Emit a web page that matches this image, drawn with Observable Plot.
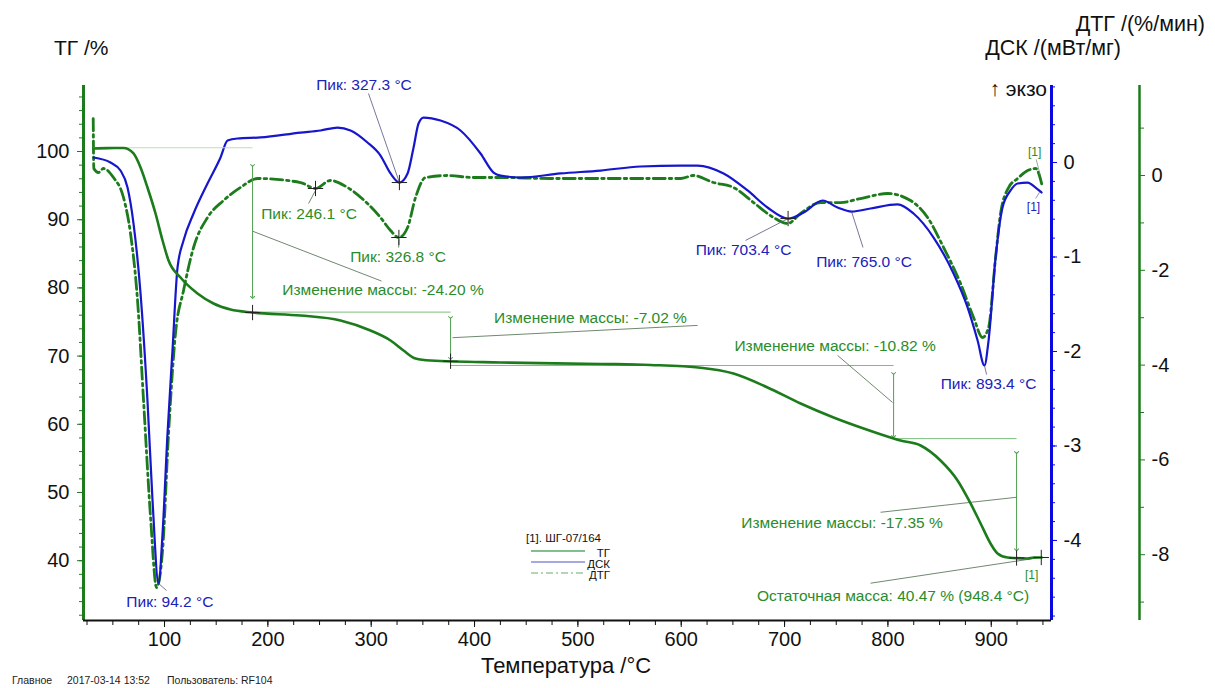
<!DOCTYPE html>
<html><head><meta charset="utf-8">
<script src="https://cdn.jsdelivr.net/npm/d3@7"></script>
<script src="https://cdn.jsdelivr.net/npm/@observablehq/plot@0.6"></script>
<style>
body{margin:0;background:#fff;}
#chart{position:relative;width:1215px;height:688px;overflow:hidden;background:#fff;}
#chart svg{position:absolute;left:0;top:0;}
</style></head><body><div id="chart"></div>
<script>
// ---------- data ----------
const tgT = [31.3,45,60.3,70.0,76.8,83.5,91.3,98.1,103.9,115.5,131.9,147.4,163.9,185.2,231.6,270.3,299.3,318.7,331.3,342.9,357.4,425.2,521.9,570.3,618.7,650.6,683.5,715.5,747.4,776.5,805.5,812.2,831.6,850.9,867.4,880.0,889.7,899.3,906.1,915.8,935.2,941.0,948.7];
const tgV = [100.44,100.5,100.51,99.71,97.65,94.72,90.91,86.95,84.02,81.52,79.18,77.71,76.83,76.39,75.95,75.22,73.75,72.29,70.82,69.65,69.35,69.06,68.85,68.7,68.3,67.45,65.4,63.05,61.0,59.38,57.92,57.62,56.89,54.69,51.76,48.39,45.46,42.52,41.06,40.47,40.32,40.47,40.47];

const dscT = [31.3,47.7,57.4,64.2,70.0,76.8,83.5,88.4,94.2,98.1,102.9,107.7,112.6,118.4,128.1,141.6,154.2,161.0,170.6,192.9,231.6,251.0,267.4,280.0,296.4,309.0,318.7,327.3,335.2,341.0,345.8,350.6,367.1,386.4,405.8,418.4,425.2,444.5,483.2,521.9,560.6,599.3,615.8,641.0,664.2,683.5,703.4,718.4,736.8,751.3,765.0,783.2,809.3,824.8,844.2,863.5,877.1,886.8,893.4,897.4,904.2,910.9,918.7,925.5,935.2,942.9,948.7];
const dscV = [0.053,0,-0.085,-0.265,-0.646,-1.386,-2.519,-3.577,-4.455,-3.926,-2.868,-1.989,-1.111,-0.825,-0.540,-0.222,0.053,0.233,0.254,0.265,0.317,0.339,0.370,0.339,0.212,0.074,-0.116,-0.212,-0.116,0.159,0.413,0.476,0.444,0.339,0.095,-0.106,-0.138,-0.159,-0.116,-0.085,-0.042,-0.032,-0.032,-0.116,-0.296,-0.476,-0.593,-0.529,-0.402,-0.476,-0.519,-0.487,-0.444,-0.540,-0.794,-1.175,-1.534,-1.884,-2.148,-1.884,-1.005,-0.476,-0.296,-0.222,-0.212,-0.265,-0.317];

const dtgT = [31.0,31.6,36.1,41.0,50.6,60.3,67.1,73.9,79.7,86.5,92.3,98.1,103.9,110.6,118.4,128.1,141.6,157.1,173.5,190.0,231.6,246.1,260.6,277.1,296.4,309.0,318.7,326.8,335.2,342.9,352.6,373.9,399.0,425.2,473.5,521.9,570.3,599.3,611.9,631.3,650.6,670.0,689.3,702.9,715.5,734.8,754.2,773.5,799.7,821.9,838.4,853.9,870.3,882.9,891.6,897.4,904.2,909.0,916.8,925.5,935.2,942.9,949.7];
const dtgV = [1.2,0.148,0.063,0.148,-0.042,-0.464,-1.224,-2.637,-4.747,-7.215,-8.692,-7.911,-5.443,-3.333,-2.426,-1.519,-0.886,-0.527,-0.253,-0.063,-0.148,-0.274,-0.105,-0.253,-0.591,-0.886,-1.160,-1.308,-1.097,-0.464,-0.042,0,-0.042,-0.042,-0.063,-0.063,-0.063,-0.063,0,-0.148,-0.253,-0.570,-0.886,-1.013,-0.802,-0.570,-0.570,-0.485,-0.380,-0.527,-0.886,-1.519,-2.278,-2.996,-3.418,-3.207,-1.730,-0.802,-0.253,-0.063,0.105,0.148,-0.253];

// tick values
const xTicks = [100,200,300,400,500,600,700,800,900];
const xMinor = d3.range(25, 951, 25);
const tgTicks = [40,50,60,70,80,90,100];
const tgMinor = d3.range(32, 109, 2);
const dscTicks = [-4,-3,-2,-1,0];
const dscMinor = d3.range(-4.8, 0.81, 0.2).map(v => +v.toFixed(1));
const dtgTicks = [-8,-6,-4,-2,0];
const dtgMinor = [-9,-7,-5,-3,-1,1];

// TG mass-change annotations
const stepT1 = [31, 185.2, 376.8, 805.5];
const stepT2 = [185.2, 376.8, 805.5, 924.5];
const stepV  = [100.55, 76.45, 68.62, 57.9];
const arrowT = [185.2, 376.8, 805.5, 924.5];
const arrowA = [97.95, 75.66, 67.45, 55.86];
const arrowB = [78.6, 69.65, 58.2, 41.6];
const tgCrossT = [185.2, 376.8, 924.5, 948.4];
const tgCrossV = [76.39, 69.25, 40.4, 40.47];
const tgLeaderT1 = [185.5, 378.7, 804.5, 924.5, 947.7];
const tgLeaderV1 = [88.3, 72.7, 63.2, 49.3, 40.47];
const tgLeaderT2 = [310, 615.8, 751.3, 792.9, 783.2];
const tgLeaderV2 = [81.0, 74.5, 70.1, 47.1, 36.7];
const tgLabelT = [311.4, 512.2, 748.9, 755.6, 805.0];
const tgLabelV = [79.62, 75.51, 71.55, 45.45, 34.75];
const tgLabelS = ["Изменение массы: -24.20 %","Изменение массы: -7.02 %","Изменение массы: -10.82 %","Изменение массы: -17.35 %","Остаточная масса: 40.47 % (948.4 °C)"];

// DSC peaks
const dscLabelT = [105.2, 293.0, 660.3, 776.9, 897.4];
const dscLabelV = [-4.656, 0.815, -0.931, -1.058, -2.349];
const dscLabelS = ["Пик: 94.2 °C","Пик: 327.3 °C","Пик: 703.4 °C","Пик: 765.0 °C","Пик: 893.4 °C"];
const dscLeaderT1 = [94.2, 297.4, 662.2, 775.9, 895.5];
const dscLeaderV1 = [-4.455, 0.730, -0.825, -0.899, -2.245];
const dscLeaderT2 = [102.0, 327.3, 703.4, 764.8, 893.4];
const dscLeaderV2 = [-4.53, -0.212, -0.593, -0.519, -2.148];
const dscCrossT = [327.3, 703.4];
const dscCrossV = [-0.212, -0.593];

// DTG peaks
const dtgLabelT = [239.8, 326.0];
const dtgLabelV = [-0.823, -1.730];
const dtgLabelS = ["Пик: 246.1 °C","Пик: 326.8 °C"];
const dtgLeaderT1 = [239.4, 326.6];
const dtgLeaderV1 = [-0.591, -1.52];
const dtgLeaderT2 = [246.1, 326.8];
const dtgLeaderV2 = [-0.316, -1.35];
const dtgCrossT = [246.1, 326.8];
const dtgCrossV = [-0.274, -1.308];

// end-of-curve "[1]" markers
const endTagT = {tg: 939.0, dsc: 940.9, dtg: 941.9};
const endTagV = {tg: 37.83, dsc: -0.476, dtg: 0.485};

const legendLabels = ["ТГ","ДСК","ДТГ"];
const sampleName = "[1]. ШГ-07/164";

// ---------- layout ----------
const W = 1215, H = 688;
const mT = 85, mB = 68, mL = 83, mR = 164, mR3 = 76;
const xDom = [21.6, 958.3];
const xDom3 = [21.6, 21.6 + (W - mR3 - mL) * (958.3 - 21.6) / (W - mR - mL)];
const tgDom = [31.23, 109.68];
const dscDom = [-4.847, 0.815];
const dtgDom = [-9.388, 1.899];
const FONT = "'Liberation Sans', Arial, Helvetica, sans-serif";
const GREEN = "#1c7c1c", GTEXT = "#2a8c2a", LGREEN = "#7cbf7c";
const BLUE = "#1616cc", BTEXT = "#2020bb", BAXIS = "#0a0ae0";
const ANN = 15.5;

const zip = (a, b) => a.map((t, i) => ({t, v: b[i]}));
const tgData = zip(tgT, tgV), dscData = zip(dscT, dscV), dtgData = zip(dtgT, dtgV);
const idx = n => d3.range(n);

const common = {width: W, height: H, marginTop: mT, marginBottom: mB, marginLeft: mL,
  style: {fontFamily: FONT, background: "transparent", overflow: "visible"}};

// DTG plot (its own axis on the far right)
const p3 = Plot.plot({...common, marginRight: mR3,
  x: {domain: xDom3, axis: null},
  y: {domain: dtgDom, axis: null},
  marks: [
    Plot.ruleX([xDom3[1]], {stroke: GREEN, strokeWidth: 2.5}),
    Plot.axisY(dtgMinor, {anchor: "right", tickSize: 4, text: null, color: GREEN, label: null}),
    Plot.axisY(dtgTicks, {anchor: "right", tickSize: 5, text: null, color: GREEN, label: null}),
    Plot.axisY(dtgTicks, {anchor: "right", tickSize: 0, tickPadding: 12, fontSize: 20, color: "#111", label: null, tickFormat: d => String(d)}),
    Plot.line(dtgData, {x: "t", y: "v", stroke: GREEN, strokeWidth: 2.8, strokeDasharray: "12,4,2.5,4", curve: "monotone-x"}),
    Plot.link(idx(dtgLeaderT1.length), {x1: i => dtgLeaderT1[i], y1: i => dtgLeaderV1[i], x2: i => dtgLeaderT2[i], y2: i => dtgLeaderV2[i], stroke: "#4a6a4a", strokeWidth: 0.8}),
    Plot.dot(idx(dtgCrossT.length), {x: i => dtgCrossT[i], y: i => dtgCrossV[i], symbol: "plus", r: 5, stroke: "#222", strokeWidth: 1}),
    Plot.text(idx(dtgLabelT.length), {x: i => dtgLabelT[i], y: i => dtgLabelV[i], text: i => dtgLabelS[i], fill: GTEXT, fontSize: ANN}),
    Plot.text(["[1]"], {x: endTagT.dtg, y: endTagV.dtg, text: d => d, fill: GTEXT, fontSize: 12}),
    Plot.link([0], {x1: 943.5, y1: 0.34, x2: 947.5, y2: 0.0, stroke: "#6a8a6a", strokeWidth: 0.7})
  ]});

// DSC plot (blue axis)
const p2 = Plot.plot({...common, marginRight: mR,
  x: {domain: xDom, axis: null},
  y: {domain: dscDom, axis: null},
  marks: [
    Plot.ruleX([xDom[1]], {stroke: BAXIS, strokeWidth: 3}),
    Plot.axisY(dscMinor, {anchor: "right", tickSize: 3, text: null, color: BAXIS, label: null}),
    Plot.axisY(dscTicks, {anchor: "right", tickSize: 5, text: null, color: BAXIS, label: null}),
    Plot.axisY(dscTicks, {anchor: "right", tickSize: 0, tickPadding: 12, fontSize: 20, color: "#111", label: null, tickFormat: d => String(d)}),
    Plot.line(dscData, {x: "t", y: "v", stroke: BLUE, strokeWidth: 2.2, curve: "monotone-x"}),
    Plot.link(idx(dscLeaderT1.length), {x1: i => dscLeaderT1[i], y1: i => dscLeaderV1[i], x2: i => dscLeaderT2[i], y2: i => dscLeaderV2[i], stroke: "#55557a", strokeWidth: 0.8}),
    Plot.dot(idx(dscCrossT.length), {x: i => dscCrossT[i], y: i => dscCrossV[i], symbol: "plus", r: 5, stroke: "#222", strokeWidth: 1}),
    Plot.text(idx(dscLabelT.length), {x: i => dscLabelT[i], y: i => dscLabelV[i], text: i => dscLabelS[i], fill: BTEXT, fontSize: ANN}),
    Plot.text(["[1]"], {x: endTagT.dsc, y: endTagV.dsc, text: d => d, fill: BTEXT, fontSize: 12}),
    Plot.link([0], {x1: 943, y1: -0.38, x2: 947, y2: -0.31, stroke: "#6a6a9a", strokeWidth: 0.7})
  ]});

// TG plot (left axis + temperature axis)
const p1 = Plot.plot({...common, marginRight: mR,
  x: {domain: xDom, axis: null},
  y: {domain: tgDom, axis: null},
  marks: [
    Plot.ruleX([xDom[0]], {stroke: GREEN, strokeWidth: 3}),
    Plot.axisY(tgMinor, {tickSize: 4, text: null, color: GREEN, label: null}),
    Plot.axisY(tgTicks, {tickSize: 6, text: null, color: GREEN, label: null}),
    Plot.axisY(tgTicks, {tickSize: 0, tickPadding: 14, fontSize: 20, color: "#111", label: null}),
    Plot.ruleY([tgDom[0]], {stroke: "#111", strokeWidth: 2}),
    Plot.axisX(xMinor, {tickSize: 5, text: null, color: "#111", label: null}),
    Plot.axisX(xTicks, {tickSize: 7, tickPadding: 4, fontSize: 20, color: "#111", label: null}),
    Plot.link(idx(stepT1.length), {x1: i => stepT1[i], x2: i => stepT2[i], y1: i => stepV[i], y2: i => stepV[i], stroke: i => i === 0 ? "#b9e0b9" : LGREEN, strokeWidth: 1}),
    Plot.link(idx(arrowT.length), {x1: i => arrowT[i], x2: i => arrowT[i], y1: i => arrowA[i], y2: i => arrowB[i], stroke: "#4f9f4f", strokeWidth: 1, markerStart: "arrow", markerEnd: "arrow"}),
    Plot.link(idx(tgLeaderT1.length), {x1: i => tgLeaderT1[i], y1: i => tgLeaderV1[i], x2: i => tgLeaderT2[i], y2: i => tgLeaderV2[i], stroke: "#4a6a4a", strokeWidth: 0.8}),
    Plot.line(tgData, {x: "t", y: "v", stroke: GREEN, strokeWidth: 2.6, curve: "monotone-x"}),
    Plot.dot(idx(tgCrossT.length), {x: i => tgCrossT[i], y: i => tgCrossV[i], symbol: "plus", r: 5, stroke: "#222", strokeWidth: 1}),
    Plot.text(idx(tgLabelT.length), {x: i => tgLabelT[i], y: i => tgLabelV[i], text: i => tgLabelS[i], fill: GTEXT, fontSize: ANN}),
    Plot.text(["[1]"], {x: endTagT.tg, y: endTagV.tg, text: d => d, fill: GTEXT, fontSize: 12})
  ]});

const root = document.getElementById("chart");
root.append(p3, p2, p1);

// ---------- titles, legend, footer ----------
const ov = d3.select(root).append("svg").attr("width", W).attr("height", H)
  .style("font-family", FONT).style("pointer-events", "none");
const titles = [
  {s: "ТГ /%", x: 54, y: 47, a: "start", f: 21},
  {s: "ДТГ /(%/мин)", x: 1205, y: 24, a: "end", f: 21.5},
  {s: "ДСК /(мВт/мг)", x: 1121, y: 48, a: "end", f: 21.5},
  {s: "↑ экзо", x: 1047, y: 88, a: "end", f: 21},
  {s: "Температура /°C", x: 566, y: 665, a: "middle", f: 22}
];
ov.selectAll("text.t").data(titles).join("text").attr("class", "t")
  .attr("x", d => d.x).attr("y", d => d.y).attr("text-anchor", d => d.a)
  .attr("dominant-baseline", "central").attr("font-size", d => d.f).attr("fill", "#111").text(d => d.s);

const footer = [{s: "Главное", x: 12}, {s: "2017-03-14 13:52", x: 67}, {s: "Пользователь: RF104", x: 167}];
ov.selectAll("text.f").data(footer).join("text").attr("class", "f")
  .attr("x", d => d.x).attr("y", 680).attr("dominant-baseline", "central")
  .attr("font-size", 10.5).attr("fill", "#222").text(d => d.s);

// legend
const lg = ov.append("g");
lg.append("text").attr("x", 526).attr("y", 538).attr("dominant-baseline", "central")
  .attr("font-size", 11.5).attr("fill", "#111").text(sampleName);
const legStyle = [{c: "#5aa86a", dash: null}, {c: "#8a8ad8", dash: null}, {c: "#9ac89a", dash: "7,3,2,3"}];
legendLabels.forEach((s, i) => {
  const y = 551 + i * 11;
  lg.append("line").attr("x1", 531).attr("x2", 585).attr("y1", y).attr("y2", y)
    .attr("stroke", legStyle[i].c).attr("stroke-width", 1.3).attr("stroke-dasharray", legStyle[i].dash);
  lg.append("text").attr("x", 610).attr("y", y + 2).attr("text-anchor", "end").attr("dominant-baseline", "central")
    .attr("font-size", 11.5).attr("fill", "#111").text(s);
});
</script>
</body></html>
